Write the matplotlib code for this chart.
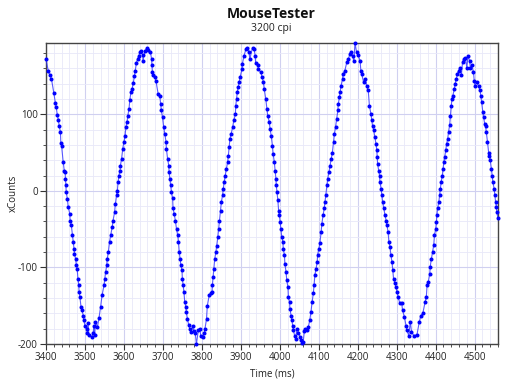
import matplotlib
matplotlib.use("Agg")
import matplotlib.pyplot as plt
from matplotlib.ticker import MultipleLocator

plt.rcParams['font.family'] = ['Open Sans', 'DejaVu Sans']
plt.rcParams['axes.unicode_minus'] = False

title = "MouseTester"
subtitle = "3200 cpi"
x_label = "Time (ms)"
y_label = "xCounts"

time_ms = [
    3400, 3406, 3410, 3414, 3420, 3424, 3426, 3429, 3432, 3434, 3437, 3438, 3440, 3444, 3447, 3449,
    3450, 3451, 3452, 3455, 3457, 3461, 3462, 3465, 3468, 3470, 3472, 3473, 3476, 3478, 3480, 3482,
    3484, 3485, 3487, 3490, 3492, 3496, 3497, 3500, 3504, 3506, 3508, 3510, 3517, 3521, 3523, 3525,
    3527, 3532, 3536, 3540, 3544, 3549, 3551, 3553, 3556, 3557, 3560, 3563, 3566, 3570, 3572, 3576,
    3578, 3581, 3583, 3585, 3587, 3590,
    3591, 3594, 3597, 3600, 3603, 3605, 3608, 3610, 3613, 3615, 3618, 3621, 3624, 3627, 3629, 3632,
    3635, 3638, 3641, 3645, 3648, 3649, 3654, 3658, 3662, 3668, 3671, 3672, 3673, 3675, 3679, 3682,
    3688, 3692, 3694, 3696, 3699, 3702, 3705, 3708, 3709, 3712, 3715, 3716, 3718, 3720, 3722, 3725,
    3726, 3729, 3732, 3735, 3738, 3740, 3742, 3744, 3746, 3749, 3750, 3752, 3754, 3756, 3759, 3760,
    3763, 3766, 3769, 3773, 3776, 3779, 3783, 3786,
    3791, 3795, 3797, 3802, 3806, 3808, 3812, 3814, 3819, 3823, 3826, 3827, 3829, 3831, 3833, 3836,
    3838, 3841, 3843, 3845, 3848, 3850, 3853, 3855, 3857, 3860, 3863, 3866, 3868, 3870, 3872, 3875,
    3879, 3882, 3886, 3887, 3889, 3891, 3893, 3896, 3898, 3903, 3904, 3908, 3913, 3917, 3921, 3923,
    3930, 3934, 3937, 3938, 3943, 3945, 3951, 3955, 3958, 3960, 3964, 3967, 3969, 3973, 3975, 3978,
    3981, 3983, 3986, 3988, 3990, 3991, 3993, 3995, 3997, 3999, 4001, 4003, 4005, 4008, 4009, 4012,
    4013, 4016, 4018, 4021, 4022, 4025, 4026, 4029, 4031, 4033, 4035, 4038, 4041, 4044, 4048, 4052,
    4055, 4058, 4060, 4063, 4065, 4069, 4073, 4077, 4080, 4083, 4086, 4088, 4090, 4093, 4096, 4097,
    4100, 4103, 4106, 4108, 4111, 4114, 4116, 4118, 4121, 4123, 4126, 4129, 4132, 4135, 4138, 4140,
    4143, 4146, 4149, 4150, 4153, 4155, 4157, 4161, 4163, 4167, 4172, 4176, 4180, 4183, 4187, 4190,
    4193, 4197, 4201, 4206, 4208, 4210, 4215, 4219, 4223, 4227, 4230, 4234, 4236, 4238, 4241, 4244,
    4247, 4249, 4250, 4251, 4254, 4256, 4257, 4260, 4262, 4264, 4267, 4270, 4273, 4275, 4278, 4280,
    4283, 4285, 4288, 4290, 4292, 4296, 4298, 4301, 4304, 4308, 4313, 4315, 4320, 4324, 4326, 4331,
    4335, 4338, 4344, 4352, 4358, 4362, 4367, 4373, 4376, 4378, 4381, 4385, 4386, 4389, 4392, 4395,
    4397, 4400, 4402, 4403, 4405, 4408, 4410, 4412, 4414, 4417, 4419, 4421, 4423, 4426, 4428, 4431,
    4433, 4436, 4438, 4440, 4442, 4444, 4448, 4450, 4453, 4456, 4459, 4463, 4466, 4469, 4472, 4476,
    4480, 4483, 4487, 4489, 4493, 4497, 4499, 4501, 4505, 4510, 4514, 4516, 4518, 4521, 4523, 4526,
    4528, 4530, 4533, 4536, 4538, 4540, 4543, 4545, 4547, 4550, 4552, 4554, 4556, 4557, 4560,
]

x_counts = [
    172, 156, 151, 146, 128, 115, 110, 99, 92, 84, 77, 63, 59, 38, 26, 25,
    16, 7, -2, -11, -21, -30, -39, -45, -58, -67, -76, -82, -89, -97, -102, -115,
    -123, -132, -139, -152, -156, -163, -169, -176, -180, -186, -172, -188, -191, -186, -176, -188,
    -171, -178, -166, -152, -136, -123, -115, -106, -97, -89, -80, -67, -58, -47, -39, -28,
    -17, -6, 0, 11, 20, 26,
    33, 42, 55, 64, 72, 83, 90, 98, 107, 118, 129, 133, 141, 150, 157, 167,
    172, 176, 181, 183, 177, 170, 183, 186, 184, 181, 172, 164, 155, 151, 148, 144,
    126, 124, 114, 105, 96, 83, 74, 64, 55, 42, 33, 24, 16, 7, -2, -10,
    -23, -30, -39, -50, -58, -67, -80, -89, -97, -104, -115, -123, -132, -145, -152, -158,
    -167, -175, -180, -184, -176, -183, -186, -200,
    -182, -180, -189, -191, -186, -180, -167, -150, -136, -134, -132, -123, -112, -102, -89, -80,
    -72, -60, -50, -39, -26, -15, -6, 3, 11, 20, 29, 37, 46, 57, 68, 74,
    83, 92, 100, 111, 120, 129, 135, 142, 148, 159, 166, 176, 185, 186, 181, 172,
    187, 185, 176, 167, 164, 159, 155, 148, 142, 133, 120, 107, 98, 90, 81, 72,
    59, 48, 37, 26, 16, 7, -2, -12, -26, -32, -41, -50, -60, -67, -76, -84,
    -95, -106, -117, -126, -139, -145, -154, -163, -169, -176, -182, -189, -193, -180, -185, -191,
    -195, -199, -198, -183, -180, -182, -178, -169, -158, -145, -134, -123, -110, -102, -93, -84,
    -76, -68, -54, -43, -32, -23, -15, -6, 7, 16, 24, 33, 42, 50, 64, 74,
    83, 94, 105, 113, 122, 129, 137, 146, 153, 157, 168, 172, 179, 181, 176, 169,
    193, 181, 177, 170, 157, 153, 142, 146, 137, 131, 111, 100, 92, 85, 79, 70,
    61, 53, 44, 35, 26, 20, 11, 3, -6, -15, -23, -32, -39, -45, -54, -67,
    -73, -84, -93, -104, -115, -121, -126, -132, -139, -147, -147, -156, -165, -176, -182, -189,
    -171, -184, -189, -188, -171, -163, -160, -145, -139, -123, -119, -108, -99, -89, -80, -71,
    -58, -50, -41, -32, -23, -15, -6, 3, 11, 20, 29, 37, 44, 53, 61, 68,
    77, 86, 98, 111, 120, 124, 133, 140, 146, 153, 157, 161, 151, 168, 172, 174,
    161, 176, 170, 161, 164, 155, 144, 137, 142, 137, 131, 124, 116, 103, 96, 87,
    85, 77, 64, 50, 46, 40, 29, 20, 11, 3, -6, -15, -21, -28, -36,
]

x_ticks = [3400, 3500, 3600, 3700, 3800, 3900, 4000, 4100, 4200, 4300, 4400, 4500]
y_ticks = [-200, -100, 0, 100]

fig = plt.figure(figsize=(5.12, 3.84), dpi=100)
ax = fig.add_axes([46 / 512, 1 - 344 / 384, (498 - 46) / 512, (344 - 43) / 384])

ax.plot(time_ms, x_counts, color='#3333ff', linewidth=0.8, alpha=0.8, zorder=3, clip_on=False)
ax.plot(time_ms, x_counts, linestyle='none', marker='o', markersize=2.9,
        color='#0000ff', markeredgewidth=0, zorder=4, clip_on=False)

ax.set_xlim(3400, 4560)
ax.set_ylim(-200, 193)
ax.set_xticks(x_ticks)
ax.set_yticks(y_ticks)
ax.xaxis.set_minor_locator(MultipleLocator(20))
ax.yaxis.set_minor_locator(MultipleLocator(20))

ax.grid(which='major', color='#d0d0f0', linewidth=0.8, zorder=0)
ax.grid(which='minor', color='#e8e8f8', linewidth=0.6, zorder=0)
ax.set_axisbelow(True)

for s in ax.spines.values():
    s.set_color('#444444')
    s.set_linewidth(1.0)

ax.tick_params(axis='both', which='major', direction='out', length=4, width=0.8,
               color='#333333', labelsize=7, labelcolor='#222222', pad=2)
ax.tick_params(axis='both', which='minor', direction='out', length=2.5, width=0.6, color='#333333')

ax.set_xlabel(x_label, fontsize=7, color='#222222')
ax.set_ylabel(y_label, fontsize=7, color='#222222')
ax.xaxis.set_label_coords(0.5, -25 / 301)
ax.yaxis.set_label_coords(-27 / 452, 0.5)

fig.text(0.5303, 1 - 14 / 384, title, ha='center', va='center', fontsize=10, fontweight='bold', color='#111111')
fig.text(0.5303, 1 - 29 / 384, subtitle, ha='center', va='center', fontsize=7.5, color='#222222')

fig.savefig('out.png', dpi=100)
